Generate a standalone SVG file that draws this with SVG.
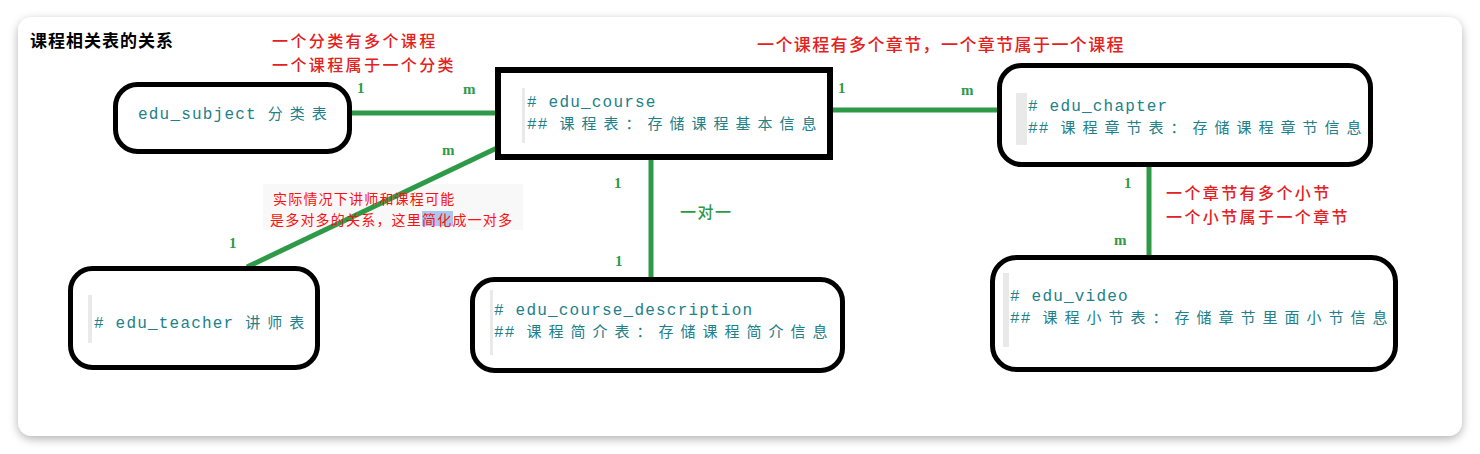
<svg xmlns="http://www.w3.org/2000/svg" width="1480" height="454" viewBox="0 0 1480 454">
<defs>
<filter id="sh" x="-5%" y="-10%" width="110%" height="120%">
<feDropShadow dx="0" dy="3" stdDeviation="5" flood-color="#000" flood-opacity="0.3"/>
</filter>
<style>
.box{fill:#fff;stroke:#000;stroke-width:5}
.bar{fill:#e9e9e9}
.code{font-family:"Liberation Mono","Noto Sans CJK SC",monospace;font-size:16px;fill:#21808a;letter-spacing:1.2px}
.cjk{font-family:"Noto Sans CJK SC",sans-serif;font-size:15px;letter-spacing:7px}
.conn{stroke:#2e9a48;stroke-width:5;fill:none}
.card{font-family:"Liberation Serif",serif;font-size:15px;font-weight:bold;fill:#2e9a48}
.red{font-family:"Noto Sans CJK SC",sans-serif;font-size:16px;font-weight:500;fill:#e42020;letter-spacing:2.4px}
.red1{font-family:"Noto Sans CJK SC",sans-serif;font-size:17px;font-weight:500;fill:#e42020;letter-spacing:1.4px}
.sred{font-family:"Noto Sans CJK SC",sans-serif;font-size:14px;fill:#ff1010;letter-spacing:1.2px}
.title{font-family:"Noto Sans CJK SC",sans-serif;font-size:17px;font-weight:bold;fill:#000;letter-spacing:1px}
.green{font-family:"Noto Sans CJK SC",sans-serif;font-size:16px;font-weight:500;fill:#2e9a48;letter-spacing:1.5px}
</style>
</defs>
<rect width="1480" height="454" fill="#fff"/>
<rect x="18" y="17" width="1444" height="419" rx="14" fill="#fff" filter="url(#sh)"/>
<text class="title" x="30" y="47">课程相关表的关系</text>

<text class="red" x="272" y="47">一个分类有多个课程</text>
<text class="red" x="272" y="71">一个课程属于一个分类</text>
<text class="red1" x="757" y="51">一个课程有多个章节，一个章节属于一个课程</text>
<text class="red" x="1166" y="199">一个章节有多个小节</text>
<text class="red" x="1166" y="223">一个小节属于一个章节</text>

<rect x="263" y="184" width="260" height="46" fill="#f8f8f8"/>
<rect x="422" y="211" width="31" height="15" fill="#a9c7ef"/>

<g id="connectors">
<line class="conn" x1="350" y1="113" x2="499" y2="113"/>
<line class="conn" x1="832" y1="110" x2="1000" y2="110"/>
<line class="conn" x1="247" y1="267" x2="499" y2="147"/>
<line class="conn" x1="651" y1="157" x2="651" y2="277"/>
<line class="conn" x1="1149" y1="164" x2="1149" y2="257"/>
<text class="card" x="357" y="93">1</text>
<text class="card" x="463" y="94">m</text>
<text class="card" x="838" y="93">1</text>
<text class="card" x="961" y="95">m</text>
<text class="card" x="442" y="155">m</text>
<text class="card" x="229" y="248">1</text>
<text class="card" x="614" y="188">1</text>
<text class="card" x="615" y="266">1</text>
<text class="card" x="1124" y="188">1</text>
<text class="card" x="1114" y="245">m</text>
<text class="green" x="680" y="218">一对一</text>
</g>

<text class="sred" x="273" y="204">实际情况下讲师和课程可能</text>
<text class="sred" x="270" y="225">是多对多的关系，这里简化成一对多</text>

<g id="edu_subject">
<rect class="box" x="115.5" y="84.5" width="234" height="67" rx="22"/>
<text class="code" x="138" y="119">edu_subject <tspan class="cjk">分类表</tspan></text>
</g>

<g id="edu_course">
<rect class="box" x="498" y="70" width="332" height="87" style="stroke-width:6"/>
<rect class="bar" x="522" y="88" width="3" height="55"/>
<text class="code" x="527" y="107"># edu_course</text>
<text class="code" x="527" y="129">## <tspan class="cjk">课程表：存储课程基本信息</tspan></text>
</g>

<g id="edu_chapter">
<rect class="box" x="999.5" y="65.5" width="371" height="99" rx="22"/>
<rect class="bar" x="1016" y="93" width="11" height="52"/>
<text class="code" x="1028" y="111"># edu_chapter</text>
<text class="code" x="1028" y="133">## <tspan class="cjk">课程章节表：存储课程章节信息</tspan></text>
</g>

<g id="edu_teacher">
<rect class="box" x="70.5" y="268.5" width="247" height="99" rx="22"/>
<rect class="bar" x="88" y="295" width="4" height="48"/>
<text class="code" x="94" y="328"># edu_teacher <tspan class="cjk">讲师表</tspan></text>
</g>

<g id="edu_course_description">
<rect class="box" x="472.5" y="279.5" width="370" height="91" rx="22"/>
<rect class="bar" x="490" y="290" width="3" height="65"/>
<text class="code" x="494" y="315"># edu_course_description</text>
<text class="code" x="494" y="337">## <tspan class="cjk">课程简介表：存储课程简介信息</tspan></text>
</g>

<g id="edu_video">
<rect class="box" x="992.5" y="257.5" width="403" height="112" rx="24"/>
<rect class="bar" x="1003" y="273" width="6" height="74"/>
<text class="code" x="1010" y="301"># edu_video</text>
<text class="code" x="1010" y="323">## <tspan class="cjk">课程小节表：存储章节里面小节信息</tspan></text>
</g>
</svg>
